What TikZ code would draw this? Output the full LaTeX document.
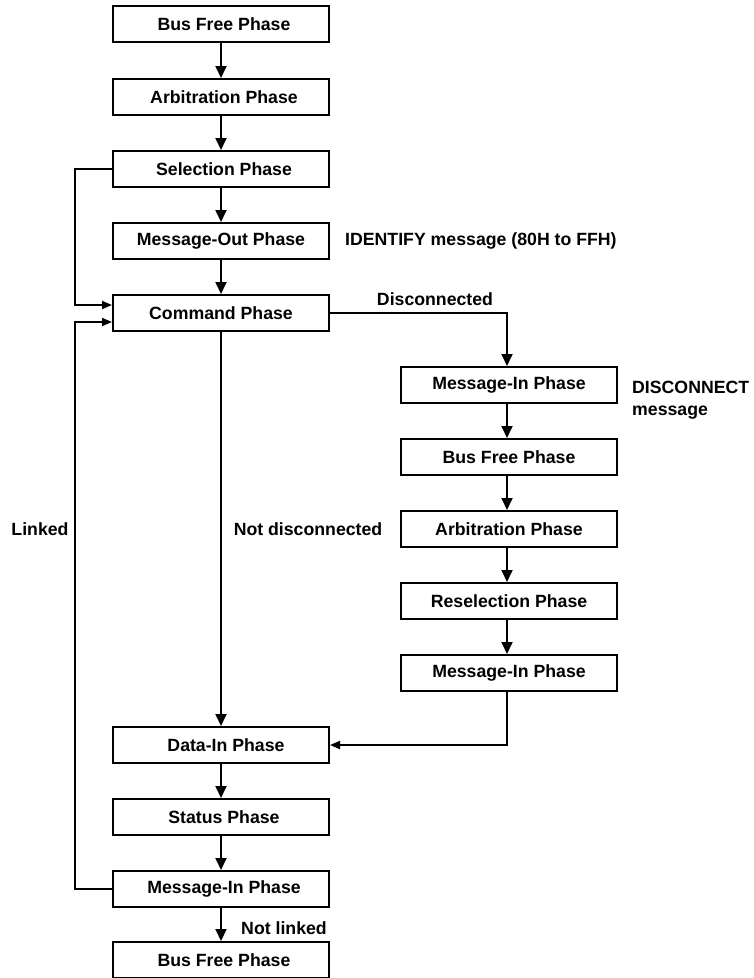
\documentclass[tikz,border=0pt]{standalone}
\usepackage{fontspec}
\setmainfont{Liberation Sans}
\usetikzlibrary{arrows.meta}
\begin{document}
\begin{tikzpicture}[x=1pt,y=-1pt,
  phase/.style={draw, line width=2pt, minimum width=216pt, minimum height=36pt, inner sep=0pt,
    font=\fontsize{17.7}{20}\selectfont\bfseries},
  lbl/.style={font=\fontsize{17.7}{20}\selectfont\bfseries, inner sep=0pt},
  arr/.style={line width=1.8pt, -{Triangle[length=12pt,width=11pt]}},
  sarr/.style={line width=1.8pt, -{Triangle[length=10pt,width=8pt]}},
  ln/.style={line width=1.8pt}]
\useasboundingbox (0,0) rectangle (753,978);
% left column
\node[phase] (bf1) at (221,24) {\hspace*{6pt}Bus Free Phase};
\node[phase] (arb1) at (221,97) {\hspace*{6pt}Arbitration Phase};
\node[phase] (sel) at (221,169) {\hspace*{6pt}Selection Phase};
\node[phase] (mo) at (221,241) {Message-Out Phase};
\node[phase] (cmd) at (221,313) {Command Phase};
\node[phase] (din) at (221,745) {\hspace*{10pt}Data-In Phase};
\node[phase] (st) at (221,817) {\hspace*{6pt}Status Phase};
\node[phase] (mi) at (221,889) {\hspace*{6pt}Message-In Phase};
\node[phase] (bf3) at (221,960) {\hspace*{6pt}Bus Free Phase};
% right column
\node[phase] (rm1) at (509,385) {Message-In Phase};
\node[phase] (rbf) at (509,457) {Bus Free Phase};
\node[phase] (rarb) at (509,529) {Arbitration Phase};
\node[phase] (rsel) at (509,601) {Reselection Phase};
\node[phase] (rm2) at (509,673) {Message-In Phase};
% labels
\node[lbl, anchor=west] (idl) at (345,241) {IDENTIFY message (80H to FFH)};
\node[lbl] (dcl) at (435,299) {Disconnected};
\node[lbl, anchor=west, align=left] (dml) at (632,400) {DISCONNECT\\[2pt]message};
\node[lbl] (ndl) at (308,529) {Not disconnected};
\node[lbl] (lkl) at (40,529) {Linked};
\node[lbl] (nll) at (284,928) {Not linked};
% connectors
\draw[arr] (bf1) -- (arb1);
\draw[arr] (arb1) -- (sel);
\draw[arr] (sel) -- (mo);
\draw[arr] (mo) -- (cmd);
\draw[arr] (cmd) -- (din);
\draw[arr] (din) -- (st);
\draw[arr] (st) -- (mi);
\draw[arr] (mi) -- (bf3);
\draw[arr] (cmd.east) -| ([xshift=-2pt]rm1.north);
\draw[arr] ([xshift=-2pt]rm1.south) -- ([xshift=-2pt]rbf.north);
\draw[arr] ([xshift=-2pt]rbf.south) -- ([xshift=-2pt]rarb.north);
\draw[arr] ([xshift=-2pt]rarb.south) -- ([xshift=-2pt]rsel.north);
\draw[arr] ([xshift=-2pt]rsel.south) -- ([xshift=-2pt]rm2.north);
\draw[sarr] ([xshift=-2pt]rm2.south) |- (din.east);
\draw[sarr] (sel.west) -- ++(-37,0) |- ([yshift=8pt]cmd.west);
\draw[sarr] (mi.west) -- ++(-37,0) |- ([yshift=-9pt]cmd.west);
\end{tikzpicture}
\end{document}
